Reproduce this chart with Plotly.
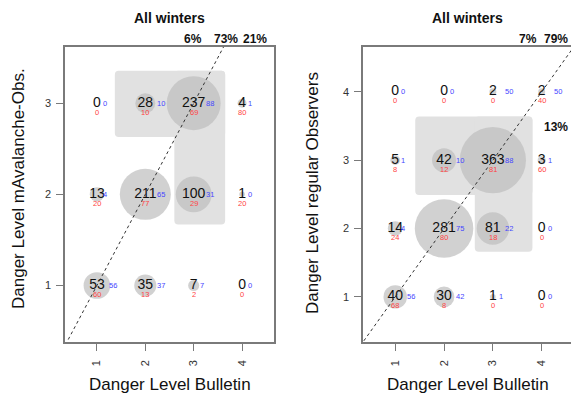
import math
import plotly.graph_objects as go

W, H = 571, 398

# ---------------- data ----------------
bulletin_levels = [1, 2, 3, 4]

left_obs_levels = [1, 2, 3]
left_counts = [[53, 35, 7, 0], [13, 211, 100, 1], [0, 28, 237, 4]]
left_blue = [[56, 37, 7, 0], [4, 65, 31, 0], [0, 10, 88, 1]]
left_red = [[60, 13, 2, 0], [20, 77, 29, 20], [0, 10, 69, 80]]
left_pct = ["6%", "73%", "21%"]

right_obs_levels = [1, 2, 3, 4]
right_counts = [[40, 30, 1, 0], [14, 281, 81, 0], [5, 42, 363, 3], [0, 0, 2, 2]]
right_blue = [[56, 42, 1, 0], [4, 75, 22, 0], [1, 10, 88, 1], [0, 0, 50, 50]]
right_red = [[68, 8, 0, 0], [24, 80, 18, 0], [8, 12, 81, 60], [0, 0, 0, 40]]
right_pct = ["7%", "79%", "13%"]

title_text = "All winters"
x_title = "Danger Level Bulletin"
left_y_title = "Danger Level mAvalanche-Obs."
right_y_title = "Danger Level regular Observers"

# ---------------- style ----------------
FONT = "Liberation Sans, Arial, Helvetica, sans-serif"
CIRCLE = "#BEBEBE"
BOX = "#E1E1E1"
BLUE = "#4646FF"
RED = "#FF4444"
AXIS = "#7A7A7A"

fig = go.Figure()


def px_x(p):
    return p / W


def px_y(p):
    return 1 - p / H


def rounded_rect(x0, x1, y0, y1, rx, ry):
    return (f"M {x0+rx},{y0} L {x1-rx},{y0} Q {x1},{y0} {x1},{y0+ry} "
            f"L {x1},{y1-ry} Q {x1},{y1} {x1-rx},{y1} L {x0+rx},{y1} "
            f"Q {x0},{y1} {x0},{y1-ry} L {x0},{y0+ry} Q {x0},{y0} {x0+rx},{y0} Z")


def add_panel(xa, ya, obs_levels, counts, blue, red, rects, rx, ry):
    xref = "x" if xa == "x" else "x2"
    yref = "y" if ya == "y" else "y2"
    for (x0, x1, y0, y1) in rects:
        fig.add_shape(type="path", path=rounded_rect(x0, x1, y0, y1, rx, ry),
                      xref=xref, yref=yref, fillcolor=BOX, line=dict(width=0),
                      layer="below")
    xs, ys, ns = [], [], []
    for i, yl in enumerate(obs_levels):
        for j, xl in enumerate(bulletin_levels):
            xs.append(xl)
            ys.append(yl)
            ns.append(counts[i][j])
            b = blue[i][j]
            fig.add_annotation(x=xl, y=yl, xref=xref, yref=yref, text=str(b),
                               showarrow=False, xanchor="center", yanchor="middle",
                               xshift=8 * len(str(b)),
                               font=dict(family=FONT, size=7.5, color=BLUE))
            fig.add_annotation(x=xl, y=yl, xref=xref, yref=yref, text=str(red[i][j]),
                               showarrow=False, xanchor="center", yanchor="middle",
                               yshift=-9,
                               font=dict(family=FONT, size=7.5, color=RED))
    sizes = [2 * (1.1 + 1.68 * math.sqrt(n)) if n > 0 else 0 for n in ns]
    fig.add_trace(go.Scatter(x=xs, y=ys, xaxis=xa, yaxis=ya, mode="markers+text",
                             text=[str(n) for n in ns], textposition="middle center",
                             textfont=dict(family=FONT, size=14, color="#111111"),
                             marker=dict(size=sizes, color=CIRCLE, line=dict(width=0)),
                             showlegend=False, hoverinfo="skip", cliponaxis=False))
    fig.add_trace(go.Scatter(x=[0, 5], y=[0, 5], xaxis=xa, yaxis=ya, mode="lines",
                             line=dict(color="#333333", width=1, dash="3px,3px"),
                             showlegend=False, hoverinfo="skip"))


add_panel("x", "y", left_obs_levels, left_counts, left_blue, left_red,
          [(1.37, 3.65, 2.63, 3.355), (2.60, 3.65, 1.67, 3.355)], 0.08, 0.044)
add_panel("x2", "y2", right_obs_levels, right_counts, right_blue, right_red,
          [(1.41, 3.81, 2.49, 3.64), (2.63, 3.81, 1.66, 3.64)], 0.08, 0.059)

ydom = [px_y(342), px_y(46.7)]
axis_common = dict(showgrid=False, zeroline=False, showline=True, linecolor=AXIS,
                   linewidth=1.5, ticks="outside", ticklen=7, tickcolor=AXIS,
                   tickwidth=1, tickfont=dict(family=FONT, size=11, color="#333333"))

fig.update_layout(
    width=W, height=H,
    margin=dict(l=0, r=0, t=0, b=0),
    paper_bgcolor="white", plot_bgcolor="white",
    xaxis=dict(domain=[px_x(65), px_x(274)], range=[0.34, 4.66], tickvals=bulletin_levels,
               tickangle=-90, mirror=True, anchor="y", ticklabelstandoff=5, **axis_common),
    yaxis=dict(domain=ydom, range=[0.38, 3.62], tickvals=left_obs_levels,
               mirror=True, anchor="x", ticklabelstandoff=3, **axis_common),
    xaxis2=dict(domain=[px_x(363), 1], range=[0.34, 4.60], tickvals=bulletin_levels,
                tickangle=-90, mirror=True, anchor="y2", ticklabelstandoff=5, **axis_common),
    yaxis2=dict(domain=ydom, range=[0.34, 4.66], tickvals=right_obs_levels,
                mirror=False, anchor="x2", ticklabelstandoff=3, **axis_common),
)

# titles
for cx in (169.5, 467.5):
    fig.add_annotation(x=px_x(cx), y=px_y(18), xref="paper", yref="paper",
                       text=f"<b>{title_text}</b>", showarrow=False,
                       xanchor="center", yanchor="middle",
                       font=dict(family=FONT, size=14, color="#111111"))
    fig.add_annotation(x=px_x(cx), y=px_y(384), xref="paper", yref="paper",
                       text=x_title, showarrow=False, xanchor="center", yanchor="middle",
                       font=dict(family=FONT, size=17, color="#111111"))

fig.add_annotation(x=px_x(18), y=px_y(189), xref="paper", yref="paper",
                   text=left_y_title, textangle=-90, showarrow=False,
                   xanchor="center", yanchor="middle",
                   font=dict(family=FONT, size=17, color="#111111"))
fig.add_annotation(x=px_x(312), y=px_y(193), xref="paper", yref="paper",
                   text=right_y_title, textangle=-90, showarrow=False,
                   xanchor="center", yanchor="middle",
                   font=dict(family=FONT, size=17, color="#111111"))

# percentages
left_pct_pos = [(193, 39), (226, 39), (255, 39)]
for txt, (px, py) in zip(left_pct, left_pct_pos):
    fig.add_annotation(x=px_x(px), y=px_y(py), xref="paper", yref="paper",
                       text=f"<b>{txt}</b>", showarrow=False,
                       xanchor="center", yanchor="middle",
                       font=dict(family=FONT, size=12, color="#111111"))
right_pct_pos = [(528, 39, "center"), (570, 39, "right"), (570, 127, "right")]
for txt, (px, py, anc) in zip(right_pct, right_pct_pos):
    fig.add_annotation(x=px_x(px), y=px_y(py), xref="paper", yref="paper",
                       text=f"<b>{txt}</b>", showarrow=False,
                       xanchor=anc, yanchor="middle",
                       font=dict(family=FONT, size=12, color="#111111"))

fig.write_html("out.html", config={"displayModeBar": False},
               post_script="document.body.style.margin='0';document.body.style.overflow='hidden';")
